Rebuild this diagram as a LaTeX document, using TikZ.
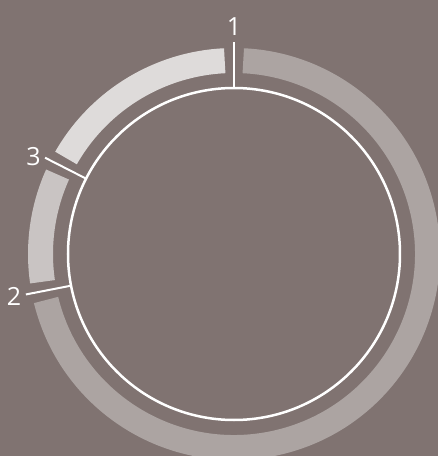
\documentclass[tikz,border=0pt]{standalone}
\usepackage{fontspec}
\setmainfont{Open Sans}
\definecolor{bg}{RGB}{128,115,113}
\definecolor{segA}{RGB}{222,219,218}
\definecolor{segB}{RGB}{201,196,195}
\definecolor{segC}{RGB}{172,164,162}
\tikzset{
  band/.style={line width=25pt},
  tick/.style={draw=white, line width=2pt},
  ring/.style={draw=white, line width=2.5pt},
  lbl/.style={text=white, font=\fontsize{25}{25}\selectfont, inner sep=0pt}
}
\begin{document}
\begin{tikzpicture}[x=1pt,y=1pt]
\fill[bg] (-234,-202) rectangle (204,254);
\useasboundingbox (-234,-202) rectangle (204,254);
\def\R{193.5}
\draw[band, segA] (92.75:\R) arc[start angle=92.75, end angle=150.25, radius=\R];
\draw[band, segB] (155.75:\R) arc[start angle=155.75, end angle=188.25, radius=\R];
\draw[band, segC] (193.75:\R) arc[start angle=193.75, end angle=447.25, radius=\R];
\node[ring, circle, minimum size=332pt, inner sep=0pt] (c) at (0,0) {};
\coordinate (t1a) at (90:166);  \coordinate (t1b) at (90:212);
\coordinate (t3a) at (153:166); \coordinate (t3b) at (153:212);
\coordinate (t2a) at (191:166); \coordinate (t2b) at (191:212);
\draw[tick] (t1a) -- (t1b);
\draw[tick] (t3a) -- (t3b);
\draw[tick] (t2a) -- (t2b);
\node[lbl] (l1) at (90:227) {1};
\node[lbl] (l3) at (154:223) {3};
\node[lbl] (l2) at (190.8:224) {2};
\end{tikzpicture}
\end{document}
